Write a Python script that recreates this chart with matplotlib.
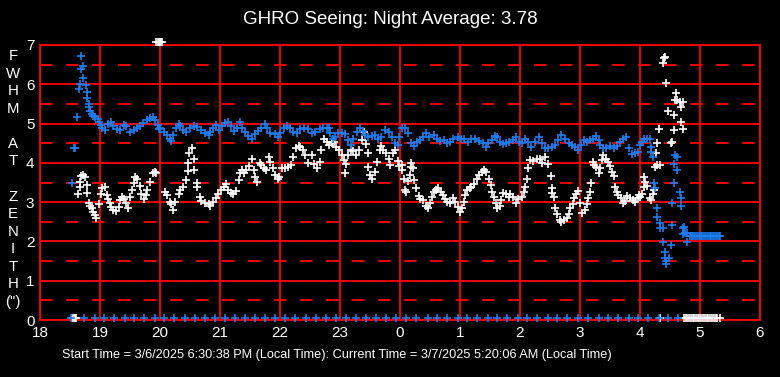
import matplotlib
matplotlib.use("Agg")
import matplotlib.pyplot as plt

# hours since midnight of start day (24 = 0h next day)
blue_t = [18.53, 18.56, 18.59, 18.62, 18.65, 18.67, 18.68, 18.69, 18.71, 18.72, 18.76, 18.78, 18.79, 18.81,
          18.82, 18.83, 18.86, 18.89, 18.92, 18.96, 18.99, 19.02, 19.04, 19.08, 19.14, 19.18, 19.22, 19.28,
          19.33, 19.40, 19.44, 19.50, 19.56, 19.61, 19.67, 19.72, 19.78, 19.83, 19.89, 19.92, 19.96, 19.99,
          20.00, 20.06, 20.11, 20.17, 20.19, 20.22, 20.27, 20.31, 20.34, 20.39, 20.44, 20.50, 20.56, 20.62,
          20.69, 20.75, 20.81, 20.84, 20.89, 20.94, 20.99, 21.03, 21.08, 21.14, 21.18, 21.23, 21.29, 21.33,
          21.36, 21.42, 21.47, 21.53, 21.58, 21.64, 21.69, 21.75, 21.79, 21.83, 21.92, 21.97,
          22.00, 22.06, 22.11, 22.17, 22.22, 22.28, 22.33, 22.40, 22.47, 22.53, 22.58, 22.66, 22.72, 22.78,
          22.82, 22.84, 22.88, 22.92, 22.97, 23.03, 23.08, 23.14, 23.18, 23.22, 23.28, 23.33, 23.38, 23.42,
          23.47, 23.53, 23.58, 23.64, 23.69, 23.75, 23.81, 23.86, 23.92, 23.96, 23.99,
          24.03, 24.08, 24.14, 24.19, 24.23, 24.28, 24.33, 24.39, 24.43, 24.49, 24.56, 24.61, 24.67, 24.73,
          24.79, 24.83, 24.89, 24.96, 25.01, 25.07, 25.14, 25.19, 25.25, 25.32, 25.38, 25.43, 25.47, 25.53,
          25.58, 25.62, 25.67, 25.71, 25.77, 25.82, 25.88, 25.93, 25.99,
          26.03, 26.08, 26.14, 26.19, 26.25, 26.31, 26.36, 26.42, 26.47, 26.53, 26.58, 26.64, 26.69, 26.75,
          26.81, 26.86, 26.92, 26.97, 27.01, 27.06, 27.11, 27.17, 27.22, 27.27, 27.31, 27.34, 27.39, 27.44,
          27.50, 27.56, 27.61, 27.67, 27.72, 27.77, 27.81, 27.86, 27.92, 27.97,
          28.00, 28.03, 28.07, 28.11, 28.16, 28.18, 28.19, 28.21, 28.59, 28.61, 28.57, 28.62, 28.24, 28.56,
          28.25, 28.66, 28.68, 28.54, 28.69, 28.28, 28.29, 28.33, 28.53, 28.34, 28.38, 28.39, 28.51, 28.41,
          28.42, 28.49, 28.44, 28.44, 28.78, 28.71, 28.74, 28.71, 28.75, 28.79,
          28.83, 28.86, 28.89, 28.92, 28.95, 28.98, 29.01, 29.04, 29.07, 29.10, 29.13, 29.16, 29.19, 29.22,
          29.25, 29.28, 29.31, 29.33]
blue_v = [3.48, 4.39, 4.39, 5.16, 5.89, 6.00, 6.40, 6.72, 6.46, 6.17, 5.98, 5.81, 5.64, 5.51,
          5.43, 5.32, 5.24, 5.19, 5.16, 5.11, 5.05, 4.96, 4.88, 4.83, 5.00, 5.05, 4.94, 4.85,
          4.83, 4.96, 4.94, 4.79, 4.83, 4.88, 4.94, 5.02, 5.09, 5.13, 5.17, 5.09, 4.96, 4.85,
          4.88, 4.79, 4.71, 4.61, 4.56, 4.71, 4.90, 5.00, 4.94, 4.83, 4.79, 4.90, 4.94, 4.92,
          4.83, 4.77, 4.72, 4.79, 4.90, 4.96, 4.83, 4.94, 5.02, 5.05, 4.94, 4.82, 4.88, 5.05,
          4.90, 4.79, 4.69, 4.62, 4.73, 4.82, 4.90, 5.00, 4.90, 4.75, 4.73, 4.67,
          4.75, 4.90, 4.94, 4.90, 4.79, 4.75, 4.85, 4.88, 4.85, 4.77, 4.79, 4.85, 4.90, 4.88,
          4.90, 4.75, 4.62, 4.65, 4.77, 4.77, 4.73, 4.58, 4.45, 4.62, 4.79, 4.88, 4.82, 4.71,
          4.67, 4.69, 4.71, 4.60, 4.67, 4.83, 4.79, 4.67, 4.50, 4.45, 4.67,
          4.90, 4.88, 4.75, 4.50, 4.43, 4.54, 4.58, 4.67, 4.77, 4.67, 4.72, 4.62, 4.56, 4.58,
          4.51, 4.54, 4.60, 4.65, 4.62, 4.60, 4.54, 4.62, 4.60, 4.56, 4.50, 4.41, 4.50, 4.58,
          4.69, 4.65, 4.54, 4.48, 4.51, 4.54, 4.58, 4.67, 4.54,
          4.51, 4.60, 4.54, 4.41, 4.54, 4.65, 4.50, 4.37, 4.39, 4.41, 4.45, 4.58, 4.71, 4.62,
          4.50, 4.45, 4.41, 4.33, 4.45, 4.58, 4.54, 4.58, 4.62, 4.69, 4.58, 4.45, 4.37, 4.39,
          4.43, 4.37, 4.43, 4.54, 4.62, 4.65, 4.37, 4.22, 4.25, 4.28,
          4.45, 4.54, 4.60, 4.62, 4.62, 4.41, 4.28, 4.16, 4.20, 4.14, 3.96, 3.83, 3.49, 3.48,
          3.35, 3.25, 3.10, 2.99, 2.90, 2.84, 2.61, 2.46, 2.42, 2.33, 2.33, 1.99, 1.91, 1.73,
          1.59, 1.57, 1.51, 1.42, 1.99, 2.33, 2.36, 2.19, 2.21, 2.22,
          2.15, 2.15, 2.15, 2.15, 2.15, 2.15, 2.15, 2.15, 2.15, 2.15, 2.15, 2.15, 2.15, 2.15,
          2.15, 2.15, 2.15, 2.15]

white_t = [18.64, 18.66, 18.67, 18.69, 18.72, 18.75, 18.78, 18.79, 18.81, 18.83, 18.86, 18.89, 18.92, 18.94,
           18.99, 19.01, 19.04, 19.08, 19.11, 19.14, 19.17, 19.19, 19.22, 19.27, 19.31, 19.33, 19.36, 19.40,
           19.43, 19.46, 19.50, 19.53, 19.56, 19.58, 19.62, 19.66, 19.69, 19.73, 19.77, 19.79, 19.83, 19.88,
           19.92, 19.94,
           20.08, 20.11, 20.16, 20.19, 20.22, 20.25, 20.31, 20.34, 20.39, 20.43, 20.46, 20.47, 20.49, 20.53,
           20.56, 20.57, 20.61, 20.62, 20.66, 20.69, 20.75, 20.81, 20.84, 20.89, 20.93, 20.97, 21.01, 21.06,
           21.10, 21.14, 21.18, 21.22, 21.27, 21.31, 21.33, 21.36, 21.40, 21.44, 21.49, 21.53, 21.56, 21.58,
           21.62, 21.66, 21.69, 21.73, 21.77, 21.81, 21.83, 21.88, 21.92, 21.96, 21.99,
           22.03, 22.08, 22.14, 22.19, 22.22, 22.27, 22.31, 22.34, 22.38, 22.42, 22.47, 22.53, 22.57, 22.61,
           22.66, 22.69, 22.73, 22.78, 22.82, 22.86, 22.90, 22.94, 22.99, 23.03, 23.07, 23.10, 23.08, 23.14,
           23.18, 23.22, 23.27, 23.31, 23.36, 23.40, 23.43, 23.46, 23.47, 23.50, 23.53, 23.58, 23.62, 23.66,
           23.68, 23.72, 23.77, 23.81, 23.83, 23.88, 23.92, 23.96, 23.99,
           24.03, 24.04, 24.07, 24.08, 24.10, 24.14, 24.16, 24.18, 24.19, 24.21, 24.23, 24.27, 24.31, 24.34,
           24.39, 24.43, 24.47, 24.50, 24.53, 24.56, 24.60, 24.64, 24.68, 24.71, 24.75, 24.79, 24.83, 24.88,
           24.92, 24.96, 25.00, 25.03, 25.06, 25.08, 25.11, 25.16, 25.19, 25.23, 25.28, 25.32, 25.36, 25.40,
           25.44, 25.49, 25.51, 25.54, 25.57, 25.60, 25.62, 25.66, 25.68, 25.72, 25.77, 25.81, 25.84, 25.89,
           25.93, 25.97,
           26.03, 26.06, 26.08, 26.11, 26.14, 26.17, 26.22, 26.28, 26.33, 26.36, 26.42, 26.47, 26.51, 26.53,
           26.54, 26.56, 26.58, 26.61, 26.66, 26.69, 26.73, 26.78, 26.81, 26.84, 26.88, 26.90, 26.93, 26.97,
           27.00, 27.04, 27.08, 27.11, 27.14, 27.17, 27.19, 27.21, 27.23, 27.27, 27.31, 27.33, 27.36, 27.39,
           27.43, 27.47, 27.50, 27.53, 27.56, 27.58, 27.61, 27.64, 27.68, 27.71, 27.75, 27.79, 27.83, 27.88,
           27.92, 27.96, 27.99,
           28.00, 28.03, 28.06, 28.08, 28.07, 28.11, 28.16, 28.19, 28.22, 28.23, 28.25, 28.28, 28.33, 28.27,
           28.29, 28.32, 28.46, 28.56, 28.51, 28.53, 28.38, 28.40, 28.42, 28.43, 28.57, 28.60, 28.58, 28.62,
           28.67, 28.71, 28.68, 28.69, 28.71]
white_v = [3.22, 3.38, 3.52, 3.66, 3.69, 3.63, 3.44, 3.24, 2.99, 2.90, 2.84, 2.76, 2.67, 2.59,
           2.95, 3.21, 3.35, 3.39, 3.18, 3.07, 2.97, 2.87, 2.80, 2.78, 2.88, 3.05, 3.14, 3.07,
           2.97, 2.84, 3.12, 3.31, 3.48, 3.63, 3.58, 3.41, 3.22, 3.07, 3.18, 3.31, 3.52, 3.73,
           3.77, 3.73,
           3.27, 3.18, 3.01, 2.95, 2.80, 3.01, 3.21, 3.31, 3.39, 3.56, 3.80, 3.99, 4.24, 4.39,
           4.09, 3.82, 3.49, 3.39, 3.14, 3.04, 2.97, 2.95, 2.90, 3.01, 3.10, 3.21, 3.31, 3.39,
           3.46, 3.32, 3.24, 3.21, 3.29, 3.56, 3.75, 3.83, 3.75, 3.82, 3.92, 4.11, 3.83, 3.65,
           3.52, 3.99, 3.94, 3.88, 3.83, 4.14, 4.03, 3.86, 3.69, 3.60, 3.65,
           3.86, 3.86, 3.90, 3.94, 4.16, 4.39, 4.43, 4.41, 4.33, 4.20, 3.99, 4.20, 3.97, 3.86,
           4.03, 4.33, 4.62, 4.54, 4.45, 4.50, 4.54, 4.41, 4.33, 4.20, 4.07, 3.97, 3.73, 4.20,
           4.33, 4.29, 4.20, 4.33, 4.58, 4.79, 4.48, 4.24, 3.90, 3.69, 3.58, 3.77, 4.03, 4.33,
           4.43, 4.33, 4.26, 4.11, 3.94, 4.24, 4.33, 4.05, 3.92,
           3.94, 3.82, 3.60, 3.31, 3.27, 3.55, 3.69, 3.90, 3.99, 3.86, 3.56, 3.35, 3.16, 3.07,
           3.05, 2.90, 2.84, 2.97, 3.14, 3.27, 3.32, 3.35, 3.27, 3.18, 3.07, 3.01, 2.99, 3.10,
           3.01, 2.88, 2.76, 2.84, 3.01, 3.18, 3.31, 3.35, 3.39, 3.46, 3.58, 3.69, 3.77, 3.82,
           3.77, 3.60, 3.44, 3.27, 3.14, 2.97, 2.84, 2.90, 3.05, 3.24, 3.21, 3.14, 3.22, 3.12,
           2.99, 3.07,
           3.14, 3.27, 3.39, 3.58, 3.86, 4.07, 4.05, 4.09, 4.11, 4.00, 4.16, 3.97, 3.66, 3.35,
           3.24, 3.14, 2.84, 2.71, 2.54, 2.50, 2.54, 2.59, 2.71, 2.84, 2.95, 3.10, 3.22, 3.29,
           2.97, 2.73, 2.80, 2.95, 3.10, 3.27, 3.49, 4.03, 3.94, 3.90, 3.75, 3.86, 4.07, 4.20,
           4.11, 4.03, 3.92, 3.77, 3.66, 3.39, 3.27, 3.18, 3.10, 2.97, 3.04, 3.16, 3.10, 3.05,
           3.01, 3.10, 3.18,
           3.14, 3.22, 3.38, 3.52, 3.65, 3.41, 3.10, 3.05, 3.22, 3.32, 3.90, 3.94, 3.94, 4.26,
           4.50, 4.85, 5.33, 4.83, 4.50, 4.54, 6.53, 6.68, 6.70, 6.04, 5.22, 5.77, 5.60, 5.60,
           5.56, 5.56, 5.41, 5.05, 4.85]

# readings pinned at the top edge (off scale)
top_t = [19.94, 19.96, 19.98, 20.00, 20.02, 20.04]
top_v = [7.08, 7.08, 7.08, 7.08, 7.08, 7.08]

# zero-value rows along the bottom
zero_blue_t = [18.51, 18.74, 18.91, 19.07, 19.24, 19.41, 19.57, 19.74, 19.91,
               20.07, 20.24, 20.42, 20.58, 20.75, 20.92, 21.08, 21.25, 21.42, 21.58, 21.75, 21.92,
               22.08, 22.25, 22.43, 22.60, 22.77, 22.93, 23.10, 23.27, 23.43, 23.60, 23.77, 23.93,
               24.10, 24.27, 24.46, 24.62, 24.79, 24.96, 25.12, 25.29, 25.46, 25.62, 25.79, 25.96,
               26.12, 26.29, 26.46, 26.62, 26.79, 26.96, 27.14, 27.31, 27.47, 27.64, 27.81, 27.97,
               28.14, 28.31, 28.47, 28.64]
zero_white_t = [18.54, 18.56, 18.58, 18.60, 28.34,
                28.74, 28.77, 28.79, 28.82, 28.85, 28.88, 28.90, 28.93, 28.96, 28.99, 29.02,
                29.05, 29.08, 29.11, 29.14, 29.17, 29.20, 29.23, 29.26, 29.29, 29.33]

xticks = [18, 19, 20, 21, 22, 23, 24, 25, 26, 27, 28, 29, 30]
xtick_labels = ["18", "19", "20", "21", "22", "23", "0", "1", "2", "3", "4", "5", "6"]
yticks = [0, 1, 2, 3, 4, 5, 6, 7]

title = "GHRO Seeing: Night Average: 3.78"
footer = "Start Time = 3/6/2025 6:30:38 PM (Local Time): Current Time = 3/7/2025 5:20:06 AM (Local Time)"
ylabel = "F\nW\nH\nM\n\nA\nT\n\nZ\nE\nN\nI\nT\nH\n(\")"

BLUE = "#1a7ff5"
RED = "#ff0000"

plt.rcParams['font.family'] = ['Liberation Sans', 'DejaVu Sans']
fig = plt.figure(figsize=(7.8, 3.77), dpi=100, facecolor="black")
ax = fig.add_axes([40 / 780, 57 / 377, 720 / 780, 275 / 377])
ax.set_facecolor("black")
ax.set_xlim(18, 30)
ax.set_ylim(0, 7)

for y in yticks:
    ax.axhline(y, color=RED, lw=1.3, zorder=1)
for y in [0.5, 1.5, 2.5, 3.5, 4.5, 5.5, 6.5]:
    ax.axhline(y, color=RED, lw=1.3, dashes=(7, 7.4), zorder=1)
for x in xticks:
    ax.axvline(x, color=RED, lw=1.3, zorder=1)
for s in ax.spines.values():
    s.set_color(RED)
    s.set_linewidth(1.3)

mk = dict(linestyle="none", marker="+", ms=6, mew=1.2, clip_on=False, zorder=3)
ax.plot(white_t, white_v, color="white", **mk)
ax.plot(blue_t, blue_v, color=BLUE, **mk)
ax.plot(top_t, top_v, color="white", **mk)
ax.plot(zero_white_t, [0.05] * len(zero_white_t), color="white", **mk)
ax.plot(zero_blue_t, [0.05] * len(zero_blue_t), color=BLUE, **mk)

ax.set_xticks(xticks)
ax.set_xticklabels(xtick_labels)
ax.set_yticks(yticks)
ax.tick_params(length=0, colors="white", labelsize=11, pad=4)

fig.text(0.5, 0.947, title, color="white", fontsize=13.5, ha="center", va="center")
fig.text(13 / 780, 1 - 179 / 377, ylabel, color="white", fontsize=10.8, ha="center", va="center",
         linespacing=1.32, multialignment="center")
fig.text(62 / 780, 1 - 355 / 377, footer, color="white", fontsize=9.2, ha="left", va="center",
         family=['Liberation Sans Narrow', 'Liberation Sans'])

fig.savefig("out.png", dpi=100, facecolor="black")
